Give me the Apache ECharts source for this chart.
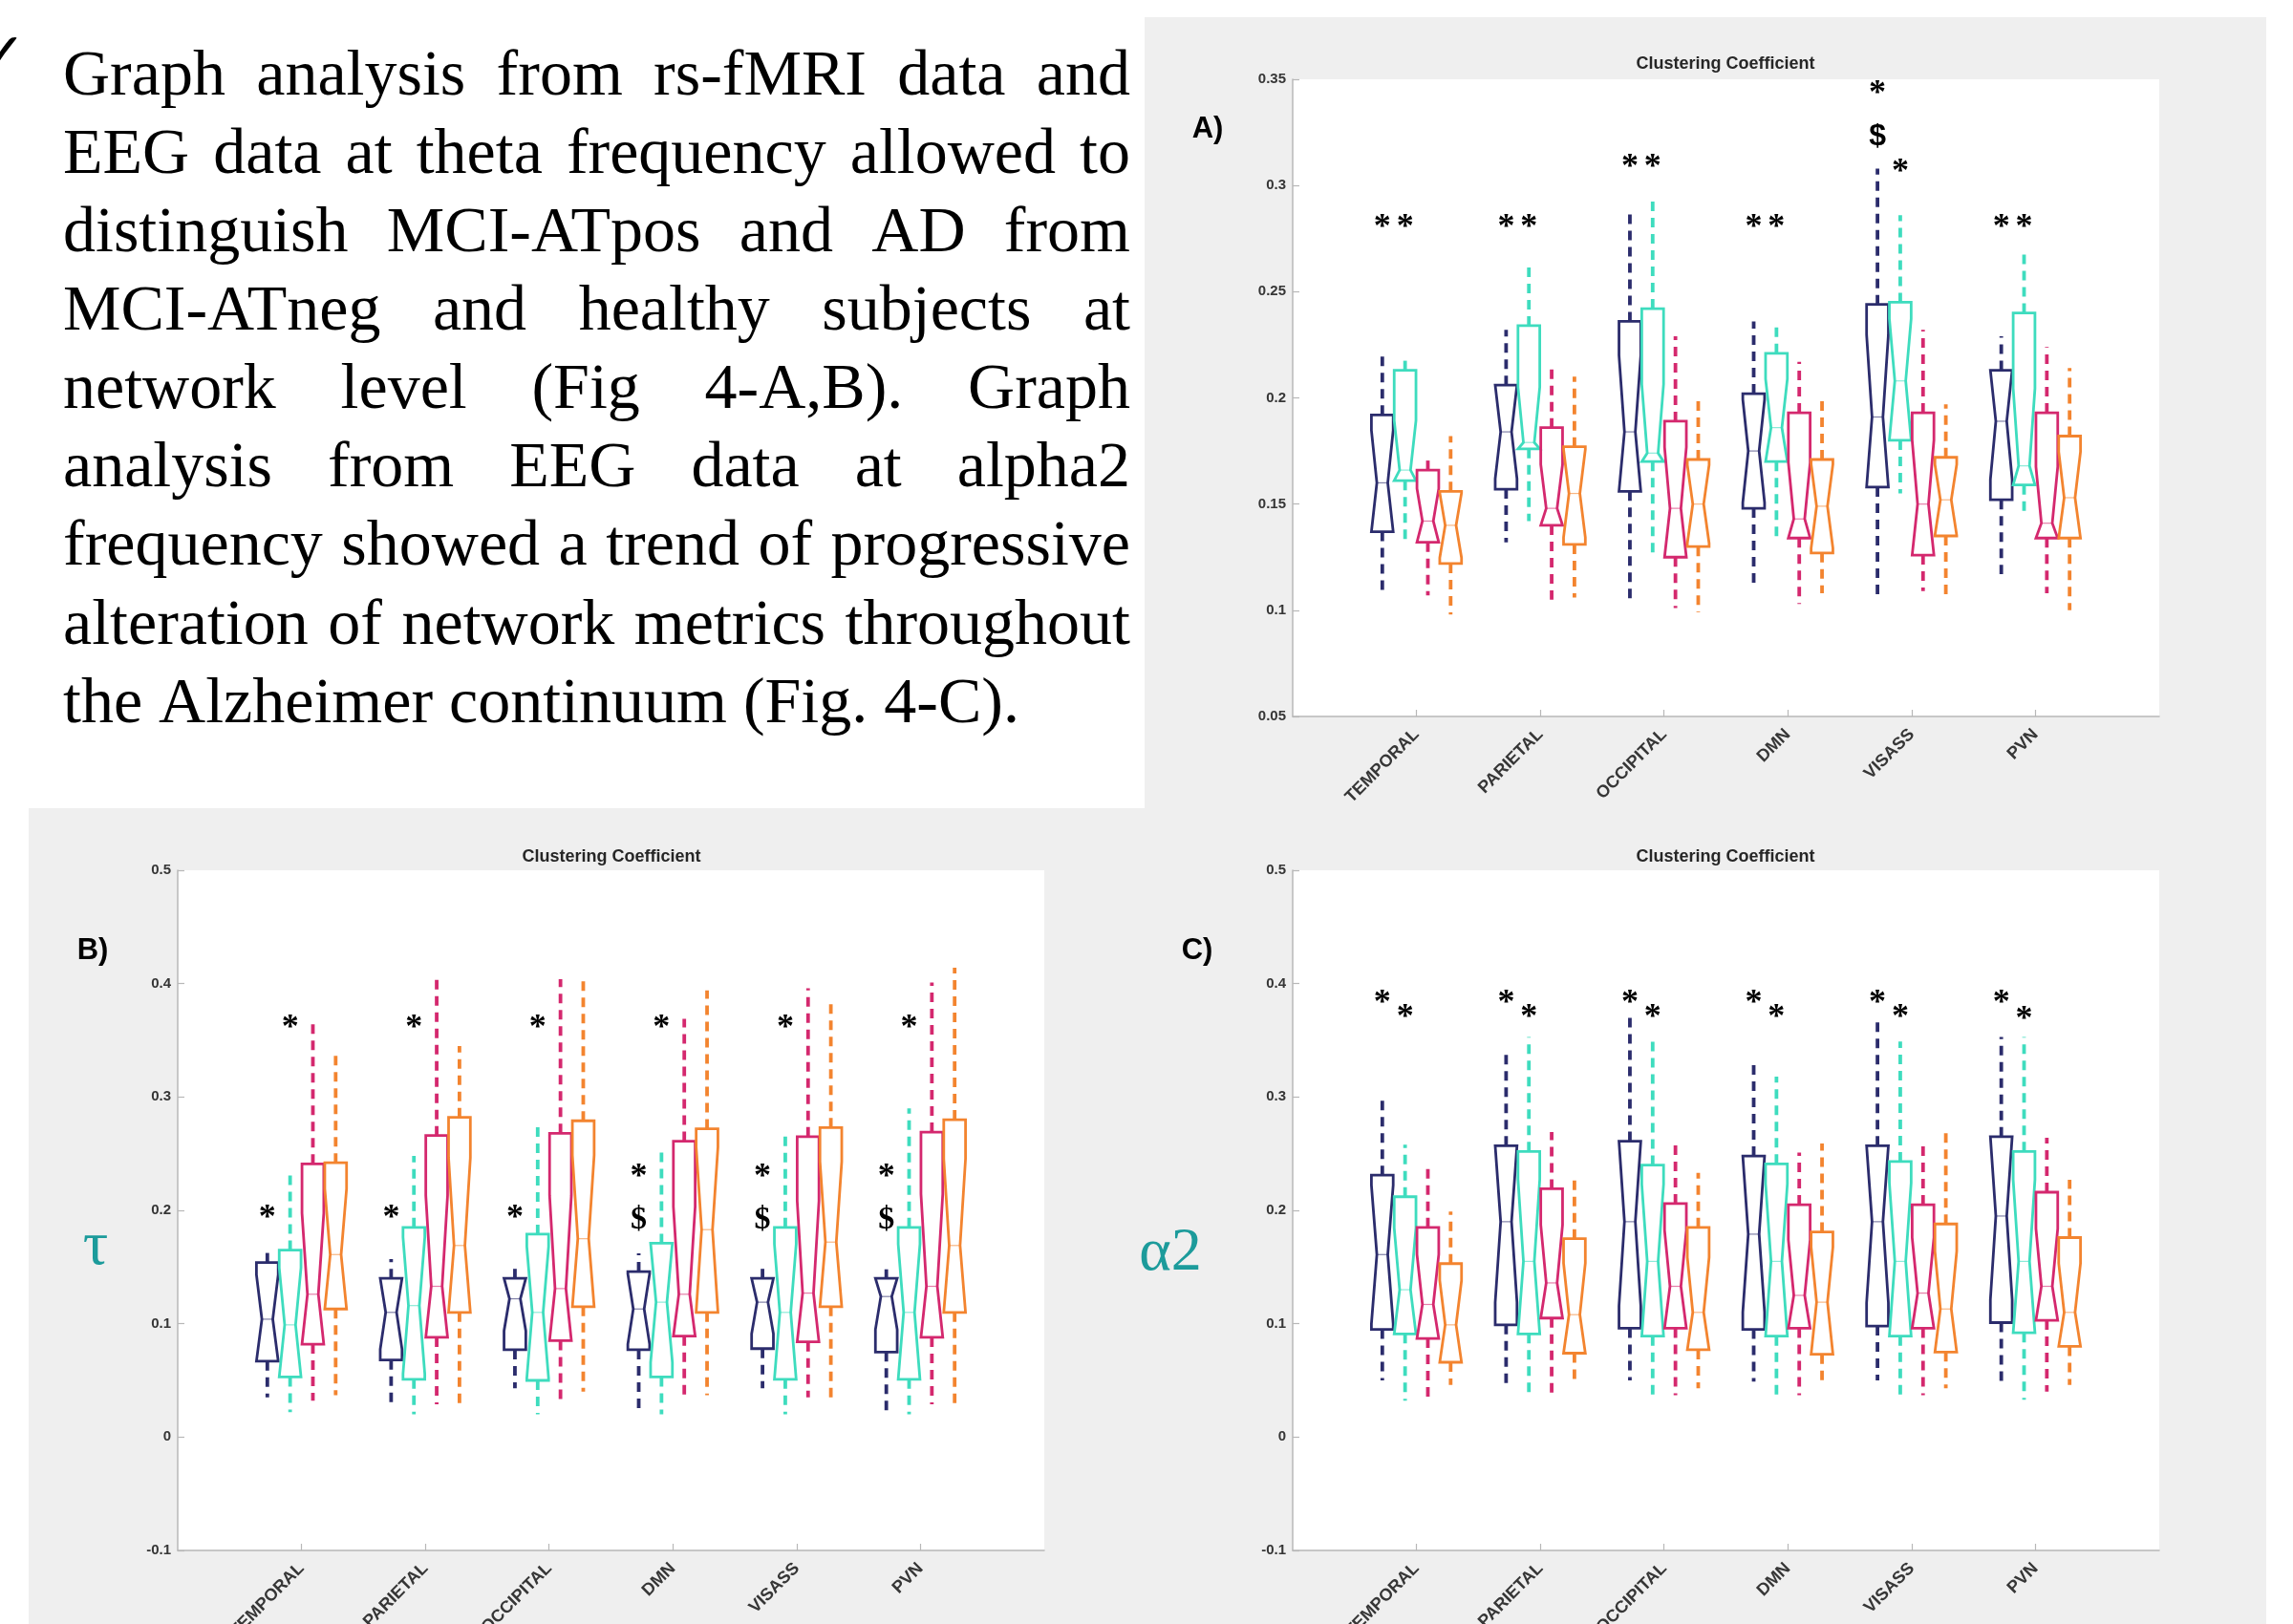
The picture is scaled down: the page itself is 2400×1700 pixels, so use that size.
<!DOCTYPE html>
<html>
<head>
<meta charset="utf-8">
<script src="https://cdn.jsdelivr.net/npm/echarts@6/dist/echarts.min.js"></script>
<style>
html,body{margin:0;padding:0;background:#fff;}
#main{width:2400px;height:1700px;}
</style>
</head>
<body>
<div id="main"></div>
<script>
// ---------------- DATA ----------------
const categories = ['TEMPORAL', 'PARIETAL', 'OCCIPITAL', 'DMN', 'VISASS', 'PVN'];
const chartTitle = 'Clustering Coefficient';
const yTicksA = [0.05, 0.35, 0.05];   // min, max, step
const yTicksBC = [-0.1, 0.5, 0.1];

// each row: [min, q1, median, q3, max] per category
// Panel A (rs-fMRI)
const A_navy = [[0.107,0.137,0.160,0.192,0.222],[0.132,0.157,0.184,0.206,0.232],[0.105,0.156,0.184,0.236,0.288],[0.110,0.148,0.175,0.202,0.236],[0.105,0.158,0.191,0.244,0.308],[0.117,0.152,0.189,0.213,0.229]];
const A_teal = [[0.133,0.161,0.166,0.213,0.218],[0.142,0.176,0.179,0.234,0.263],[0.127,0.170,0.174,0.242,0.294],[0.134,0.170,0.186,0.221,0.236],[0.155,0.180,0.208,0.245,0.286],[0.144,0.159,0.168,0.240,0.268]];
const A_magenta = [[0.107,0.132,0.142,0.166,0.171],[0.105,0.140,0.148,0.186,0.215],[0.101,0.125,0.148,0.189,0.229],[0.103,0.134,0.143,0.193,0.217],[0.109,0.126,0.150,0.193,0.232],[0.108,0.134,0.141,0.193,0.224]];
const A_orange = [[0.098,0.122,0.140,0.156,0.182],[0.106,0.131,0.155,0.177,0.210],[0.099,0.130,0.150,0.171,0.200],[0.108,0.127,0.149,0.171,0.201],[0.107,0.135,0.152,0.172,0.197],[0.100,0.134,0.153,0.182,0.214]];

// Panel B (EEG theta)
const B_navy = [[0.035,0.067,0.104,0.154,0.167],[0.025,0.068,0.110,0.140,0.157],[0.043,0.077,0.122,0.140,0.153],[0.021,0.077,0.113,0.146,0.162],[0.043,0.078,0.119,0.140,0.153],[0.021,0.075,0.124,0.140,0.148]];
const B_teal = [[0.022,0.053,0.099,0.165,0.234],[0.020,0.051,0.116,0.185,0.248],[0.020,0.050,0.110,0.179,0.276],[0.020,0.053,0.119,0.171,0.255],[0.020,0.051,0.110,0.185,0.268],[0.020,0.051,0.110,0.185,0.290]];
const B_magenta = [[0.032,0.082,0.126,0.241,0.365],[0.029,0.088,0.133,0.266,0.405],[0.029,0.085,0.131,0.268,0.404],[0.036,0.089,0.126,0.261,0.369],[0.035,0.084,0.127,0.265,0.396],[0.029,0.088,0.133,0.269,0.401]];
const B_orange = [[0.037,0.113,0.161,0.242,0.341],[0.029,0.110,0.169,0.282,0.345],[0.040,0.115,0.175,0.279,0.405],[0.037,0.110,0.183,0.272,0.394],[0.032,0.115,0.172,0.273,0.387],[0.029,0.110,0.169,0.280,0.414]];

// Panel C (EEG alpha2)
const C_navy = [[0.050,0.095,0.161,0.231,0.301],[0.047,0.099,0.190,0.257,0.342],[0.050,0.096,0.190,0.261,0.373],[0.049,0.095,0.179,0.248,0.332],[0.050,0.098,0.190,0.257,0.367],[0.047,0.101,0.195,0.265,0.353]];
const C_teal = [[0.032,0.091,0.130,0.212,0.258],[0.035,0.091,0.155,0.252,0.353],[0.033,0.089,0.155,0.240,0.351],[0.035,0.089,0.155,0.241,0.318],[0.035,0.089,0.155,0.243,0.349],[0.033,0.092,0.155,0.252,0.353]];
const C_magenta = [[0.035,0.087,0.117,0.185,0.238],[0.039,0.105,0.136,0.219,0.269],[0.037,0.096,0.133,0.206,0.259],[0.037,0.096,0.125,0.205,0.251],[0.037,0.096,0.127,0.205,0.259],[0.040,0.103,0.133,0.216,0.264]];
const C_orange = [[0.046,0.066,0.099,0.153,0.199],[0.049,0.074,0.108,0.175,0.231],[0.043,0.077,0.110,0.185,0.233],[0.049,0.073,0.119,0.181,0.259],[0.043,0.075,0.113,0.188,0.272],[0.046,0.080,0.110,0.176,0.227]];

// significance marks: [categoryIndex, groupIndex, y, symbol]
const annA = [[0,0,0.283,'*'],[0,1,0.283,'*'],[1,0,0.283,'*'],[1,1,0.283,'*'],[2,0,0.311,'*'],[2,1,0.311,'*'],[3,0,0.283,'*'],[3,1,0.283,'*'],[4,0,0.346,'*'],[4,0,0.323,'$'],[4,1,0.309,'*'],[5,0,0.283,'*'],[5,1,0.283,'*']];
const annB = [[0,1,0.366,'*'],[0,0,0.198,'*'],[1,1,0.366,'*'],[1,0,0.198,'*'],[2,1,0.366,'*'],[2,0,0.198,'*'],[3,1,0.366,'*'],[3,0,0.234,'*'],[3,0,0.191,'$'],[4,1,0.366,'*'],[4,0,0.234,'*'],[4,0,0.191,'$'],[5,1,0.366,'*'],[5,0,0.234,'*'],[5,0,0.191,'$']];
const annC = [[0,0,0.388,'*'],[0,1,0.375,'*'],[1,0,0.388,'*'],[1,1,0.375,'*'],[2,0,0.388,'*'],[2,1,0.375,'*'],[3,0,0.388,'*'],[3,1,0.375,'*'],[4,0,0.388,'*'],[4,1,0.375,'*'],[5,0,0.388,'*'],[5,1,0.373,'*']];

const textLines = [
  'Graph analysis from rs-fMRI data and',
  'EEG data at theta frequency allowed to',
  'distinguish MCI-ATpos and AD from',
  'MCI-ATneg and healthy subjects at',
  'network level (Fig 4-A,B). Graph',
  'analysis from EEG data at alpha2',
  'frequency showed a trend of progressive',
  'alteration of network metrics throughout',
  'the Alzheimer continuum (Fig. 4-C).'
];

// ---------------- STYLE ----------------
const colors = ['#2b2c6c', '#3edcbe', '#d4286e', '#f3842f'];
const offsets = [-0.276, -0.092, 0.092, 0.276];
const HALF_W = 0.088;
const NOTCH_K = 0.45;
const axisGray = '#b8b8b8';

function makeBoxRender(g) {
  const color = colors[g];
  return function (params, api) {
    const xc = api.value(0) + offsets[g];
    const mn = api.value(1), q1 = api.value(2), md = api.value(3), q3 = api.value(4), mx = api.value(5);
    const d = NOTCH_K * (q3 - q1);
    const nlo = Math.max(q1, md - d), nhi = Math.min(q3, md + d);
    const P = (x, y) => api.coord([x, y]);
    const L = xc - HALF_W, R = xc + HALF_W, Li = xc - HALF_W * 0.5, Ri = xc + HALF_W * 0.5;
    const pts = [P(L,q1),P(L,nlo),P(Li,md),P(L,nhi),P(L,q3),P(R,q3),P(R,nhi),P(Ri,md),P(R,nlo),P(R,q1)];
    const a = P(xc, q3), b = P(xc, mx), c = P(xc, q1), e = P(xc, mn);
    const m1 = P(Li, md), m2 = P(Ri, md);
    return {
      type: 'group',
      children: [
        {type:'line', shape:{x1:a[0],y1:a[1],x2:b[0],y2:b[1]}, style:{stroke:color,lineWidth:3.8,lineDash:[10,7]}},
        {type:'line', shape:{x1:c[0],y1:c[1],x2:e[0],y2:e[1]}, style:{stroke:color,lineWidth:3.8,lineDash:[10,7]}},
        {type:'polygon', shape:{points:pts}, style:{fill:'none',stroke:color,lineWidth:2.8}},
        {type:'line', shape:{x1:m1[0],y1:m1[1],x2:m2[0],y2:m2[1]}, style:{stroke:color,lineWidth:1.2,opacity:0.6}}
      ]
    };
  };
}

function boxSeries(gi, g, stats) {
  return {
    type: 'custom', xAxisIndex: gi, yAxisIndex: gi, silent: true, animation: false, z: 5,
    data: stats.map((s, i) => [i + 1, s[0], s[1], s[2], s[3], s[4]]),
    encode: {x: 0, y: [1, 2, 3, 4, 5]},
    renderItem: makeBoxRender(g)
  };
}

function annSeries(gi, ann, starFamily, dollarFamily, starSize, dollarSize) {
  return {
    type: 'custom', xAxisIndex: gi, yAxisIndex: gi, silent: true, animation: false, z: 10,
    data: ann.map(a => [a[0] + 1 + offsets[a[1]], a[2]]),
    encode: {x: 0, y: 1},
    renderItem: function (params, api) {
      const a = ann[params.dataIndex];
      const p = api.coord([api.value(0), api.value(1)]);
      const star = a[3] === '*';
      return {
        type: 'text', x: p[0], y: p[1] + (star ? starSize * 0.18 : 0),
        style: {text: a[3], fill: '#000', align: 'center', verticalAlign: 'middle',
          font: 'bold ' + (star ? starSize : dollarSize) + 'px ' + (star ? starFamily : dollarFamily)}
      };
    }
  };
}

function mkX(gi) {
  return {
    type: 'value', gridIndex: gi, min: 0, max: 7, interval: 1,
    axisLine: {show: true, onZero: false, lineStyle: {color: axisGray, width: 1.5}},
    axisTick: {show: true, inside: true, length: 7, customValues: [1,2,3,4,5,6], lineStyle: {color: axisGray, width: 1.2}},
    axisLabel: {customValues: [1,2,3,4,5,6], formatter: v => categories[Math.round(v) - 1] || '',
      rotate: 45, margin: 16, fontSize: 18, fontWeight: 'bold', color: '#363636', fontFamily: 'Liberation Sans'},
    splitLine: {show: false}
  };
}
function mkY(gi, t) {
  return {
    type: 'value', gridIndex: gi, min: t[0], max: t[1], interval: t[2],
    axisLine: {show: true, onZero: false, lineStyle: {color: axisGray, width: 1.5}},
    axisTick: {show: true, inside: true, length: 7, lineStyle: {color: axisGray, width: 1.2}},
    axisLabel: {formatter: v => String(+(+v).toFixed(2)), margin: 7, fontSize: 15, fontWeight: 'bold', color: '#363636', fontFamily: 'Liberation Sans'},
    splitLine: {show: false}
  };
}
function mkGrid(l, t, w, h) {
  return {left: l, top: t, width: w, height: h, show: true, backgroundColor: '#ffffff', borderWidth: 0,
    containLabel: false, outerBoundsMode: 'none'};
}

// ---- text block (justified) ----
const TF_SIZE = 68;
const TF = TF_SIZE + 'px "Liberation Serif"';
const mctx = document.createElement('canvas').getContext('2d');
mctx.font = TF;
const textEls = [];
textLines.forEach((line, i) => {
  const words = line.split(' ');
  const baseY = 104 + i * 82.1;
  const x0 = 66, x1 = 1183;
  const widths = words.map(w => mctx.measureText(w).width);
  const total = widths.reduce((s, v) => s + v, 0);
  const last = i === textLines.length - 1;
  const gap = last ? mctx.measureText(' ').width : (x1 - x0 - total) / (words.length - 1);
  let x = x0;
  words.forEach((w, j) => {
    textEls.push({type: 'text', x: x, y: baseY - 23, z: 100,
      style: {text: w, font: TF, fill: '#000', align: 'left', verticalAlign: 'middle'}});
    x += widths[j] + gap;
  });
});

const graphicEls = [
  {type: 'rect', z: -100, shape: {x: 1198, y: 18, width: 1174, height: 830}, style: {fill: '#efefef'}},
  {type: 'rect', z: -100, shape: {x: 30, y: 846, width: 2342, height: 854}, style: {fill: '#efefef'}},
  {type: 'text', z: 100, x: -24, y: 62, style: {text: '\u2713', font: '62px "DejaVu Sans"', fill: '#000', align: 'left', verticalAlign: 'middle'}},
  {type: 'text', z: 100, x: 1806, y: 67, style: {text: chartTitle, font: 'bold 18px "Liberation Sans"', fill: '#262626', align: 'center', verticalAlign: 'middle'}},
  {type: 'text', z: 100, x: 640, y: 897, style: {text: chartTitle, font: 'bold 18px "Liberation Sans"', fill: '#262626', align: 'center', verticalAlign: 'middle'}},
  {type: 'text', z: 100, x: 1806, y: 897, style: {text: chartTitle, font: 'bold 18px "Liberation Sans"', fill: '#262626', align: 'center', verticalAlign: 'middle'}},
  {type: 'text', z: 100, x: 1264, y: 135, style: {text: 'A)', font: 'bold 31px "Liberation Sans"', fill: '#000', align: 'center', verticalAlign: 'middle'}},
  {type: 'text', z: 100, x: 97, y: 995, style: {text: 'B)', font: 'bold 31px "Liberation Sans"', fill: '#000', align: 'center', verticalAlign: 'middle'}},
  {type: 'text', z: 100, x: 1253, y: 995, style: {text: 'C)', font: 'bold 31px "Liberation Sans"', fill: '#000', align: 'center', verticalAlign: 'middle'}},
  {type: 'text', z: 100, x: 100, y: 1306, style: {text: '\u03C4', font: '66px "Liberation Serif"', fill: '#1c9b9b', align: 'center', verticalAlign: 'middle'}},
  {type: 'text', z: 100, x: 1225, y: 1312, style: {text: '\u03B12', font: '64px "Liberation Serif"', fill: '#1c9b9b', align: 'center', verticalAlign: 'middle'}}
].concat(textEls);

const chart = echarts.init(document.getElementById('main'), null, {renderer: 'canvas', width: 2400, height: 1700});
chart.setOption({
  backgroundColor: '#ffffff',
  animation: false,
  grid: [mkGrid(1353, 83, 907, 667), mkGrid(186, 911, 907, 712), mkGrid(1353, 911, 907, 712)],
  xAxis: [mkX(0), mkX(1), mkX(2)],
  yAxis: [mkY(0, yTicksA), mkY(1, yTicksBC), mkY(2, yTicksBC)],
  graphic: {elements: graphicEls},
  series: [
    boxSeries(0,0,A_navy), boxSeries(0,1,A_teal), boxSeries(0,2,A_magenta), boxSeries(0,3,A_orange),
    boxSeries(1,0,B_navy), boxSeries(1,1,B_teal), boxSeries(1,2,B_magenta), boxSeries(1,3,B_orange),
    boxSeries(2,0,C_navy), boxSeries(2,1,C_teal), boxSeries(2,2,C_magenta), boxSeries(2,3,C_orange),
    annSeries(0, annA, '"Liberation Serif"', '"Liberation Sans"', 36, 32),
    annSeries(1, annB, '"Liberation Serif"', '"Liberation Serif"', 36, 34),
    annSeries(2, annC, '"Liberation Serif"', '"Liberation Serif"', 36, 34)
  ]
});
</script>
</body>
</html>
